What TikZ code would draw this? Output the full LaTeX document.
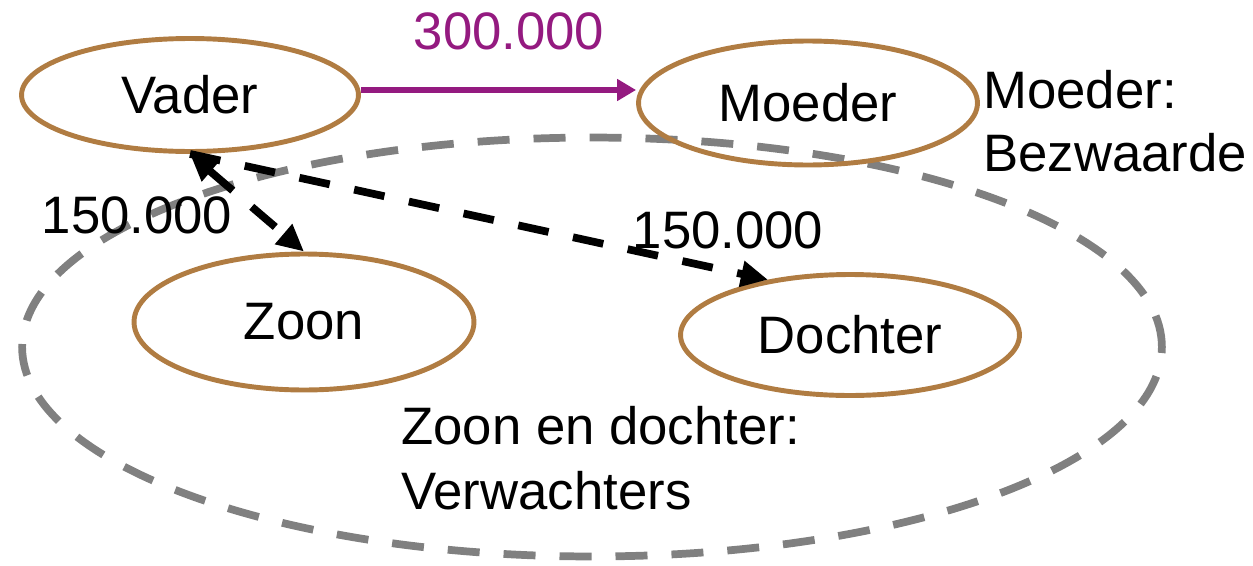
\documentclass[tikz,border=0pt]{standalone}
\usepackage{fontspec}
\setmainfont{Liberation Sans}
\usetikzlibrary{arrows.meta, shapes.geometric}
\definecolor{brownline}{RGB}{176,124,66}
\definecolor{darkpurple}{RGB}{148,26,128}
\definecolor{groupgray}{RGB}{128,128,128}

\begin{document}
\begin{tikzpicture}[
    x=0.02cm, y=-0.02cm,
    person/.style={ellipse, draw=brownline, line width=2.8pt, inner sep=0pt, font=\fontsize{30}{36}\selectfont},
    lbl/.style={inner sep=0pt, font=\fontsize{30}{36}\selectfont},
    group/.style={ellipse, draw=groupgray, line width=4.4pt, dash pattern=on 0.64cm off 0.48cm, inner sep=0pt},
    gift/.style={-{Triangle[length=0.54cm, width=0.5cm]}, line width=4.4pt, dash pattern=on 0.62cm off 0.5cm},
    transfer/.style={-{Triangle[length=0.38cm, width=0.42cm]}, line width=3.6pt, darkpurple}
]
\useasboundingbox (0,0) rectangle (1253,565);

\node[group, minimum width=22.8cm, minimum height=8.38cm] (kinderen) at (592,347) {};

\node[person, minimum width=6.74cm, minimum height=2.26cm] (vader) at (190,95) {Vader};
\node[person, minimum width=6.78cm, minimum height=2.48cm] (moeder) at (808,103) {Moeder};
\node[person, minimum width=6.8cm, minimum height=2.72cm] (zoon) at (304,322) {Zoon};
\node[person, minimum width=6.78cm, minimum height=2.42cm] (dochter) at (850,335) {Dochter};

\node[lbl, darkpurple] (bedrag) at (509,31) {300.000};
\node[lbl] (deelzoon) at (137,215) {150.000};
\node[lbl] (deeldochter) at (728,230) {150.000};
\node[lbl, align=left, anchor=north west, font=\fontsize{30}{35.7}\selectfont] (moederrol) at (983,70) {Moeder:\\Bezwaarde};
\node[lbl, align=left, anchor=north west, font=\fontsize{30}{36.9}\selectfont] (kindrol) at (401,406) {Zoon en dochter:\\Verwachters};

\draw[transfer] ([yshift=0.1cm]vader.east) -- ([yshift=0.1cm]vader.east -| moeder.west);
\draw[gift, {Triangle[length=0.54cm, width=0.5cm]}-{Triangle[length=0.54cm, width=0.5cm]}] (vader.south) -- (zoon.north);
\draw[gift] (vader.south) -- (dochter.146);

\end{tikzpicture}
\end{document}
